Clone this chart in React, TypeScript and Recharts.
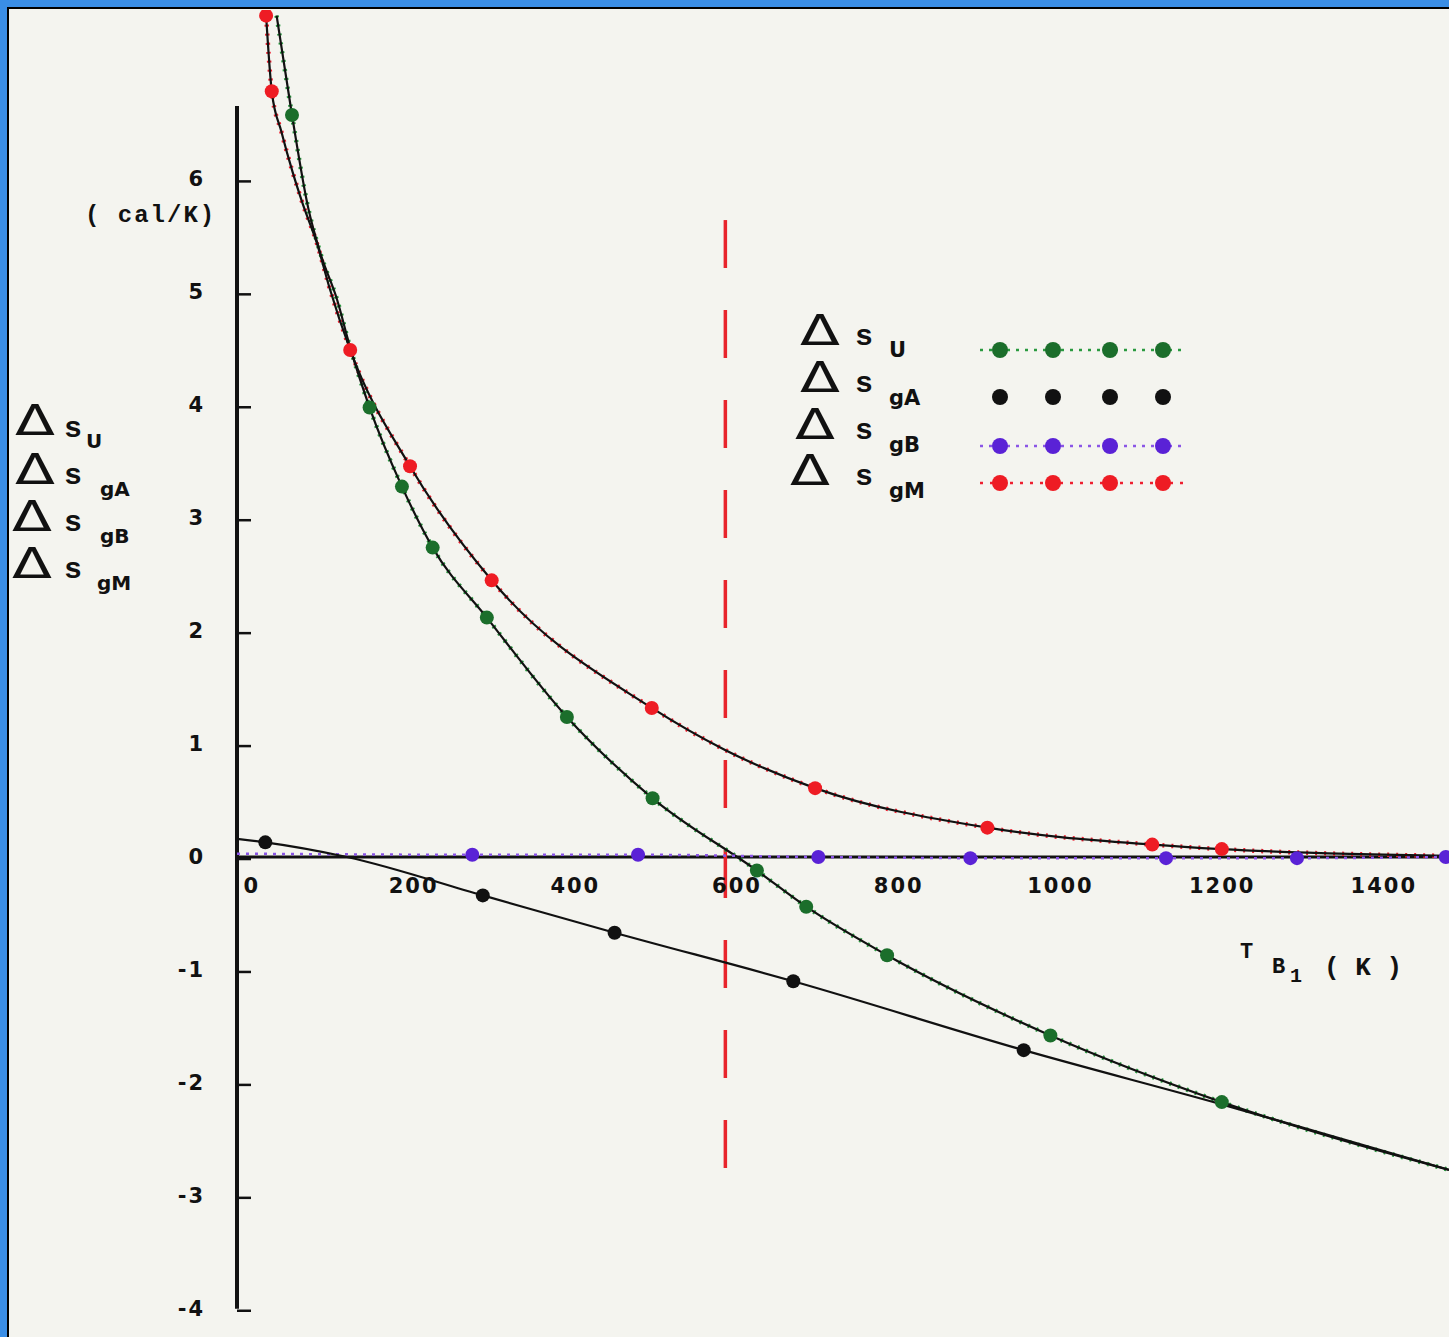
import React from 'react';
import { LineChart, Line, XAxis, YAxis, ReferenceLine, ReferenceDot, Legend } from 'recharts';

// ---- data (T in K, value in cal/K); m = plotted marker ----
const dsU = [
  { T: 38, v: 7.45, m: 0 },
  { T: 57, v: 6.57, m: 1 },
  { T: 77, v: 5.75, m: 0 },
  { T: 92, v: 5.35, m: 0 },
  { T: 113, v: 4.93, m: 0 },
  { T: 129, v: 4.51, m: 0 },
  { T: 153, v: 3.98, m: 1 },
  { T: 193, v: 3.28, m: 1 },
  { T: 231, v: 2.74, m: 1 },
  { T: 298, v: 2.12, m: 1 },
  { T: 397, v: 1.24, m: 1 },
  { T: 503, v: 0.52, m: 1 },
  { T: 632, v: -0.12, m: 1 },
  { T: 693, v: -0.44, m: 1 },
  { T: 793, v: -0.87, m: 1 },
  { T: 995, v: -1.58, m: 1 },
  { T: 1207, v: -2.17, m: 1 },
  { T: 1488, v: -2.77, m: 0 },
];

const dsGA = [
  { T: -11, v: 0.16, m: 0 },
  { T: 24, v: 0.13, m: 1 },
  { T: 125, v: 0.0, m: 0 },
  { T: 293, v: -0.34, m: 1 },
  { T: 456, v: -0.67, m: 1 },
  { T: 677, v: -1.1, m: 1 },
  { T: 962, v: -1.71, m: 1 },
  { T: 1207, v: -2.19, m: 0 },
  { T: 1488, v: -2.77, m: 0 },
];

const dsGB = [
  { T: -11, v: 0.03, m: 0 },
  { T: 280, v: 0.02, m: 1 },
  { T: 485, v: 0.02, m: 1 },
  { T: 708, v: 0.0, m: 1 },
  { T: 896, v: -0.01, m: 1 },
  { T: 1138, v: -0.01, m: 1 },
  { T: 1300, v: -0.01, m: 1 },
  { T: 1484, v: 0.0, m: 1 },
];

const dsGM = [
  { T: 25, v: 7.45, m: 1 },
  { T: 32, v: 6.78, m: 1 },
  { T: 44, v: 6.42, m: 0 },
  { T: 58, v: 6.06, m: 0 },
  { T: 70, v: 5.79, m: 0 },
  { T: 88, v: 5.43, m: 0 },
  { T: 103, v: 5.05, m: 0 },
  { T: 129, v: 4.49, m: 1 },
  { T: 203, v: 3.46, m: 1 },
  { T: 304, v: 2.45, m: 1 },
  { T: 502, v: 1.32, m: 1 },
  { T: 592, v: 0.95, m: 0 },
  { T: 704, v: 0.61, m: 1 },
  { T: 917, v: 0.26, m: 1 },
  { T: 1121, v: 0.11, m: 1 },
  { T: 1207, v: 0.07, m: 1 },
  { T: 1488, v: 0.01, m: 0 },
];

const xTicks = [0, 200, 400, 600, 800, 1000, 1200, 1400];
const yTicks = [-4, -3, -2, -1, 0, 1, 2, 3, 4, 5, 6];
const markerT = 593;

const series = [
  { sub: 'U', line: '#2a9a40', dot: '#1b6e2b', dash: '3 6' },
  { sub: 'gA', line: 'none', dot: '#111111', dash: '' },
  { sub: 'gB', line: '#8a55e6', dot: '#5a22d6', dash: '3 6' },
  { sub: 'gM', line: '#ee2030', dot: '#ee1c24', dash: '3 7' },
];

const PAPER = '#f4f4ef';
const INK = '#111111';
const NUM_FONT = '"DejaVu Sans", sans-serif';
const TXT_FONT = '"Liberation Mono", monospace';

const markDot = (color: string, r = 7) => (props: any) => {
  const { cx, cy, payload, index } = props;
  if (!payload || !payload.m || cx == null || cy == null) return <g key={`n${index}`} />;
  return <circle key={`d${index}`} cx={cx} cy={cy} r={r} fill={color} stroke="none" />;
};

const YTick = (props: any) => {
  const { x, y, payload } = props;
  return (
    <g>
      <line x1={x} x2={x + 14} y1={y + 2} y2={y + 2} stroke={INK} strokeWidth={2.5} />
      <text x={x - 32} y={y} dy={7} textAnchor="end" fontFamily={NUM_FONT} fontWeight="bold"
        fontSize={21} letterSpacing={2} fill={INK}>{payload.value}</text>
    </g>
  );
};

const XLabel = (t: number) => (props: any) => {
  const vb = props.viewBox || {};
  const cx = (vb.x ?? 0) + (vb.width ?? 0) / 2;
  const cy = (vb.y ?? 0) + (vb.height ?? 0) / 2;
  return (
    <text x={cx + 6} y={cy + 36} textAnchor="middle" fontFamily={NUM_FONT} fontWeight="bold"
      fontSize={21} letterSpacing={2} fill={INK}>{String(t)}</text>
  );
};

const Delta = ({ x, y }: { x: number; y: number }) => (
  <text x={x} y={y} fontFamily={NUM_FONT} fontSize={42} textLength={40} lengthAdjust="spacingAndGlyphs" fill={INK}>Δ</text>
);

const legendRows = [40, 87, 134, 180];
const legendLineY = [45, 92, 141, 178];
const legendDotX = [215, 268, 325, 378];

const LegendBox = () => (
  <svg width={420} height={210} style={{ overflow: 'visible' }}>
    {series.map((s, i) => (
      <g key={s.sub}>
        <Delta x={15 - (i > 1 ? 5 * (i - 1) : 0)} y={legendRows[i]} />
        <text x={70} y={legendRows[i]} fontFamily={TXT_FONT} fontWeight="bold" fontSize={30} fill={INK}>s</text>
        <text x={104} y={legendRows[i] + (i === 0 ? 12 : 13)} fontFamily={NUM_FONT} fontWeight="bold" fontSize={21} fill={INK}>{s.sub}</text>
        {s.line !== 'none' && (
          <line x1={195} x2={398} y1={legendLineY[i]} y2={legendLineY[i]} stroke={s.line} strokeWidth={2.5} strokeDasharray={s.dash} />
        )}
        {legendDotX.map((dx) => (
          <circle key={dx} cx={dx} cy={legendLineY[i]} r={8} fill={s.dot} />
        ))}
      </g>
    ))}
  </svg>
);

const leftRows = [
  { dx: 15, dy: 435, sy: 437, sx: 86, sub: 'U', suby: 448 },
  { dx: 15, dy: 484, sy: 484, sx: 100, sub: 'gA', suby: 496 },
  { dx: 12, dy: 531, sy: 531, sx: 100, sub: 'gB', suby: 543 },
  { dx: 12, dy: 578, sy: 578, sx: 97, sub: 'gM', suby: 590 },
];

export default function App() {
  return (
    <div style={{ position: 'absolute', left: 0, top: 0, width: 1449, height: 1337, background: '#3a8ee6', overflow: 'hidden' }}>
      <div style={{ position: 'absolute', left: 7, top: 7, width: 1442, height: 1330, boxSizing: 'border-box', borderLeft: '2px solid #000', borderTop: '2px solid #000', background: PAPER }} />
      <div style={{ position: 'absolute', left: 0, top: 0 }}>
        <LineChart width={1449} height={1337} margin={{ top: 10, right: 0, bottom: 0, left: 0 }}>
          <XAxis type="number" dataKey="T" domain={[-11, 1488]} hide allowDataOverflow />
          <YAxis type="number" domain={[-4.25, 7.5]} ticks={yTicks} interval={0} width={237}
            axisLine={false} tickLine={false} tickSize={0} tickMargin={0} tick={<YTick />} allowDataOverflow />
          <ReferenceLine segment={[{ x: -11, y: -4 }, { x: -11, y: 6.65 }]} stroke={INK} strokeWidth={4} ifOverflow="visible" />
          <ReferenceLine y={0} stroke={INK} strokeWidth={3} />
          <ReferenceLine segment={[{ x: markerT, y: 5.64 }, { x: markerT, y: -2.95 }]} stroke="#e8242c" strokeWidth={3.5} strokeDasharray="48 42" />
          {xTicks.map((t) => (
            <ReferenceDot key={t} x={t} y={0} r={1} fill="none" stroke="none" label={XLabel(t)} />
          ))}
          <Line data={dsU} dataKey="v" type="monotone" stroke={series[0].line} strokeWidth={4.5} strokeDasharray="2 7" dot={false} isAnimationActive={false} />
          <Line data={dsGM} dataKey="v" type="monotone" stroke={series[3].line} strokeWidth={4.5} strokeDasharray="2 7" dot={false} isAnimationActive={false} />
          <Line data={dsU} dataKey="v" type="monotone" stroke={INK} strokeWidth={2.2} dot={false} isAnimationActive={false} />
          <Line data={dsGM} dataKey="v" type="monotone" stroke={INK} strokeWidth={2.2} dot={false} isAnimationActive={false} />
          <Line data={dsGB} dataKey="v" type="monotone" stroke={series[2].line} strokeWidth={2.5} strokeDasharray={series[2].dash} dot={markDot(series[2].dot)} isAnimationActive={false} />
          <Line data={dsGA} dataKey="v" type="monotone" stroke={INK} strokeWidth={2.2} dot={markDot(series[1].dot)} isAnimationActive={false} />
          <Line data={dsU} dataKey="v" type="monotone" stroke="none" dot={markDot(series[0].dot)} isAnimationActive={false} />
          <Line data={dsGM} dataKey="v" type="monotone" stroke="none" dot={markDot(series[3].dot)} isAnimationActive={false} />
          <Legend layout="horizontal" verticalAlign="middle" align="center" content={<LegendBox />}
            wrapperStyle={{ position: 'absolute', left: 785, top: 305, width: 420, height: 210 }} />
        </LineChart>
      </div>
      <svg width={1449} height={1337} style={{ position: 'absolute', left: 0, top: 0, pointerEvents: 'none' }}>
        <text x={85} y={222} fontFamily={TXT_FONT} fontWeight="bold" fontSize={24} letterSpacing={2} fill={INK}>( cal/K)</text>
        {leftRows.map((r) => (
          <g key={r.sub}>
            <Delta x={r.dx} y={r.dy} />
            <text x={64} y={r.sy} fontFamily={TXT_FONT} fontWeight="bold" fontSize={30} fill={INK}>s</text>
            <text x={r.sx} y={r.suby} fontFamily={NUM_FONT} fontWeight="bold" fontSize={20} fill={INK}>{r.sub}</text>
          </g>
        ))}
        <text x={1240} y={958} fontFamily={TXT_FONT} fontWeight="bold" fontSize={22} fill={INK}>T</text>
        <text x={1272} y={973} fontFamily={TXT_FONT} fontWeight="bold" fontSize={22} fill={INK}>B</text>
        <text x={1290} y={982} fontFamily={TXT_FONT} fontWeight="bold" fontSize={20} fill={INK}>1</text>
        <text x={1324} y={975} fontFamily={TXT_FONT} fontWeight="bold" fontSize={26} fill={INK}>( K )</text>
      </svg>
    </div>
  );
}
